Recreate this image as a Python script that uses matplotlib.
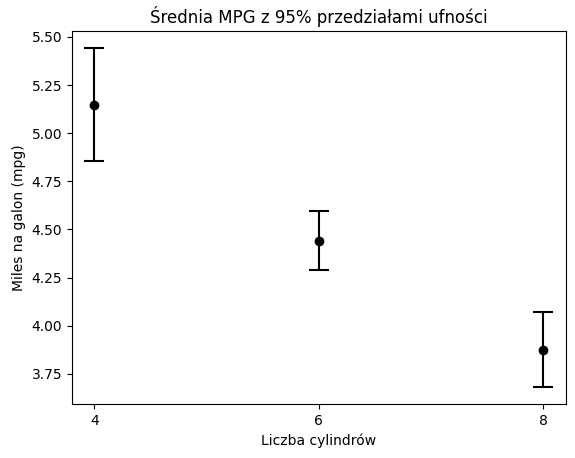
import matplotlib
matplotlib.use("Agg")
import matplotlib.pyplot as plt

cylinders = [4, 6, 8]
means = [5.149, 4.442, 3.876]
errors = [0.293, 0.152, 0.194]

fig = plt.figure(figsize=(5.75, 4.58), dpi=100)
ax = fig.add_axes([0.125, 0.118, 0.859, 0.814])
ax.errorbar(cylinders, means, yerr=errors, fmt='o', color='black', capsize=7, elinewidth=1.5, capthick=1.5)
ax.set_xticks(cylinders)
ax.set_title("Średnia MPG z 95% przedziałami ufności")
ax.set_xlabel("Liczba cylindrów")
ax.set_ylabel("Miles na galon (mpg)")
fig.savefig("out.png", dpi=100)
